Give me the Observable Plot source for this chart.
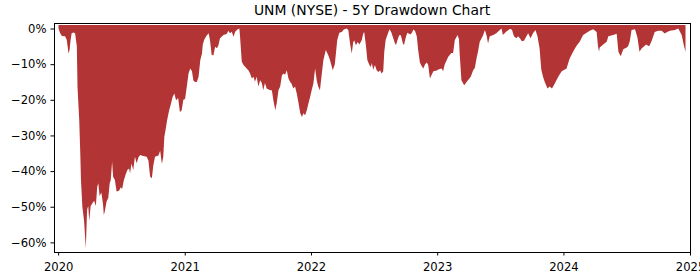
<!DOCTYPE html>
<html><head><meta charset="utf-8">
<script src="https://cdn.jsdelivr.net/npm/d3@7"></script>
<script src="https://cdn.jsdelivr.net/npm/@observablehq/plot@0.6"></script>
<style>
body{margin:0;background:#fff;font-family:"DejaVu Sans",sans-serif;}
#title{position:relative;height:20px;line-height:20px;font-size:13.9px;color:#000;width:700px;}
#title span{position:absolute;left:372px;transform:translateX(-50%);white-space:nowrap;}
#chart svg{display:block;}
</style></head><body>
<div id="title"><span>UNM (NYSE) - 5Y Drawdown Chart</span></div>
<div id="chart"></div>
<script>
const titleText = "UNM (NYSE) - 5Y Drawdown Chart";
const xTickLabels = ["2020","2021","2022","2023","2024","2025"];
const yTickValues = [0,-10,-20,-30,-40,-50,-60];
const FILL_TOP = 1.0;

const dates2020 = ["2020-01-02","2020-01-07","2020-01-12","2020-01-21","2020-01-26","2020-01-31",
"2020-02-03","2020-02-06","2020-02-09","2020-02-14","2020-02-19","2020-02-24","2020-02-26",
"2020-03-02","2020-03-05","2020-03-07","2020-03-11","2020-03-16","2020-03-21","2020-03-24","2020-03-25","2020-03-28","2020-03-31",
"2020-04-04","2020-04-09","2020-04-14","2020-04-19","2020-04-23","2020-04-26","2020-04-30",
"2020-05-05","2020-05-10","2020-05-12","2020-05-15","2020-05-20","2020-05-25","2020-05-29",
"2020-06-01","2020-06-05","2020-06-08","2020-06-13","2020-06-18","2020-06-25","2020-06-30",
"2020-07-04","2020-07-09","2020-07-14","2020-07-19","2020-07-24","2020-07-27","2020-07-31",
"2020-08-05","2020-08-10","2020-08-15","2020-08-20","2020-08-25",
"2020-09-03","2020-09-13","2020-09-18","2020-09-23","2020-09-28",
"2020-10-02","2020-10-07","2020-10-17","2020-10-22","2020-10-27","2020-10-31",
"2020-11-03","2020-11-08","2020-11-11","2020-11-17","2020-11-21","2020-11-27",
"2020-12-02","2020-12-07","2020-12-13","2020-12-18","2020-12-23","2020-12-28"];
const dd2020 = [0,-1.3,-2.1,-2.2,-3.2,-7,
-6,-3.2,-1.3,-1.1,-1.3,-5,-16.5,
-25.7,-35,-42.6,-50,-54,-61.7,-52.9,-50.7,-49.8,-54,
-49.8,-49,-48.3,-49.8,-44.4,-43.4,-47,
-46,-49.5,-52.3,-51.3,-48.5,-47.5,-43.4,
-42.6,-37.4,-41.6,-42.5,-45.7,-45.5,-44.5,
-45,-42.6,-41,-39.7,-39.3,-40.6,-37.9,
-39.7,-36,-37.8,-36.2,-35.5,
-35.8,-36,-37,-41.6,-42,
-38.5,-36,-35.6,-34.3,-38,-36,
-30.4,-27.6,-25.7,-22.9,-21.5,-19.2,
-18.2,-20.1,-19.5,-23.4,-23,-20];

const dates2021 = ["2021-01-02","2021-01-07","2021-01-12","2021-01-17","2021-01-22","2021-01-26","2021-01-31",
"2021-02-05","2021-02-10","2021-02-15","2021-02-20","2021-02-22","2021-02-26",
"2021-03-04","2021-03-11","2021-03-15","2021-03-20","2021-03-25","2021-03-30",
"2021-04-04","2021-04-08","2021-04-13","2021-04-23",
"2021-05-03","2021-05-07","2021-05-12","2021-05-17","2021-05-22","2021-05-27",
"2021-06-02","2021-06-08","2021-06-10","2021-06-15","2021-06-20","2021-06-29",
"2021-07-04","2021-07-09","2021-07-14","2021-07-19","2021-07-23","2021-07-28",
"2021-08-02","2021-08-07","2021-08-12","2021-08-16","2021-08-21","2021-08-26",
"2021-09-05","2021-09-10","2021-09-14","2021-09-20","2021-09-24","2021-09-29",
"2021-10-04","2021-10-09","2021-10-13","2021-10-18","2021-10-23","2021-10-28",
"2021-11-02","2021-11-06","2021-11-11","2021-11-16","2021-11-21","2021-11-26",
"2021-12-01","2021-12-06","2021-12-10","2021-12-15","2021-12-20","2021-12-25","2021-12-30"];
const dd2021 = [-19.8,-16.3,-12.6,-11.2,-12,-14.6,-15,
-15,-13.5,-8.8,-7,-4.6,-3.2,
-2.2,-1.3,-3.2,-7.4,-7.5,-5.1,
-5.5,-4.8,-2.7,-1.8,
-1.5,-0.6,-1.3,-0.9,-2.3,-0.9,
-0.3,0,-2.3,-9.3,-10.2,-11.2,
-11.7,-12.6,-14,-13.5,-14.9,-13.5,
-16.3,-14.5,-15.3,-17.3,-15.3,-16.8,
-17.3,-17.3,-20,-22.9,-21,-17.3,
-16.3,-13.2,-12.6,-13,-11.7,-14,
-15,-15.5,-16.8,-16.3,-18.2,-20.9,
-23.8,-24.8,-23.8,-24.3,-22.9,-20.9,-19];

const dates2022 = ["2022-01-03","2022-01-08","2022-01-13","2022-01-18","2022-01-22","2022-01-27",
"2022-02-01","2022-02-06","2022-02-13","2022-02-20","2022-02-25",
"2022-03-05","2022-03-11","2022-03-18","2022-03-24","2022-03-31",
"2022-04-06","2022-04-14","2022-04-19","2022-04-24","2022-04-29",
"2022-05-03","2022-05-06","2022-05-11","2022-05-16","2022-05-21","2022-05-28",
"2022-06-01","2022-06-04","2022-06-09","2022-06-13","2022-06-19","2022-06-23","2022-06-26","2022-06-30",
"2022-07-05","2022-07-10","2022-07-15","2022-07-20","2022-07-24","2022-07-29",
"2022-08-01","2022-08-05","2022-08-10","2022-08-16","2022-08-21","2022-08-27",
"2022-09-01","2022-09-04","2022-09-08","2022-09-13","2022-09-18","2022-09-24","2022-09-27",
"2022-10-03","2022-10-07","2022-10-15","2022-10-20","2022-10-24","2022-10-29",
"2022-11-03","2022-11-07","2022-11-12","2022-11-17","2022-11-22","2022-11-27",
"2022-12-02","2022-12-06","2022-12-11","2022-12-16","2022-12-21","2022-12-31"];
const dd2022 = [-17.3,-15.4,-11.2,-14.7,-16.3,-17.3,
-13,-8.8,-6,-7.5,-8.8,
-11.7,-10,-3.2,-1.2,-1,
-0.3,0,-0.4,-4.2,-7,
-3.9,-3.3,-4.7,-3.8,-4.5,-3.2,
-1.5,-1,-4.8,-8.8,-10.2,-10.8,-9.7,-11.6,
-10.2,-11.7,-12.2,-11.7,-12.6,-12,
-6.5,-3.2,-1.8,-0.2,-1,-2.7,
-4.2,-4.6,-3.3,-1.9,-1.9,-4.3,-4.6,
-2.2,-1.2,-1.7,-1.2,-0.3,-0.7,
-2.2,-6,-9.5,-10.5,-11.2,-10,
-9.5,-10.2,-14,-13,-12,-11.8];

const dates2023 = ["2023-01-04","2023-01-14","2023-01-18","2023-01-23",
"2023-02-02","2023-02-11","2023-02-16","2023-02-21",
"2023-03-01","2023-03-05","2023-03-07","2023-03-12","2023-03-20","2023-03-27","2023-03-31",
"2023-04-08","2023-04-15","2023-04-20","2023-04-25","2023-04-29",
"2023-05-04","2023-05-09","2023-05-14","2023-05-19","2023-05-24","2023-05-28",
"2023-06-02","2023-06-12","2023-06-21",
"2023-07-01","2023-07-06","2023-07-10","2023-07-15","2023-07-20","2023-07-30",
"2023-08-05","2023-08-11","2023-08-18","2023-08-23","2023-08-28",
"2023-09-03","2023-09-09","2023-09-16","2023-09-21","2023-09-28",
"2023-10-05","2023-10-12","2023-10-18","2023-10-24","2023-10-29",
"2023-11-03","2023-11-08","2023-11-16","2023-11-22","2023-11-29",
"2023-12-07","2023-12-17","2023-12-27"];
const dd2023 = [-11.5,-11.2,-12,-10,
-7.9,-6.9,-6.9,-3.2,
-1.8,-3,-7,-14.5,-15.9,-15,-14.5,
-13.5,-11.7,-11,-8.3,-6.5,
-3.7,-2.8,-1.8,-0.4,-2,-4.2,
-2.2,-1.8,-1.3,
-0.4,0,-1.8,-1.3,-0.8,-0.1,
-0.3,-2.2,-2.7,-2.2,-2.7,
-3.6,-3.4,-2.2,-1.3,-2.7,
-1.3,-0.4,-2.2,-5.5,-11.5,
-13.5,-15,-16.8,-16.3,-16.8,
-15.4,-13.5,-12];

const dates2024 = ["2024-01-05","2024-01-10","2024-01-19","2024-01-29",
"2024-02-07","2024-02-17","2024-02-27",
"2024-03-08","2024-03-17","2024-03-27",
"2024-04-06","2024-04-10","2024-04-13","2024-04-15","2024-04-25",
"2024-05-05","2024-05-10","2024-05-24",
"2024-06-03","2024-06-08","2024-06-13","2024-06-15","2024-06-22",
"2024-07-02","2024-07-06","2024-07-11","2024-07-16","2024-07-26",
"2024-08-02","2024-08-08","2024-08-14","2024-08-19","2024-08-27",
"2024-09-05","2024-09-12","2024-09-21",
"2024-10-01","2024-10-11","2024-10-20","2024-10-27",
"2024-11-04","2024-11-18","2024-11-28",
"2024-12-08","2024-12-14","2024-12-19"];
const dd2024 = [-11.5,-11.2,-8.4,-6.5,
-5,-3.7,-1.8,
-1.2,-0.6,-0.2,
-1,-5,-6.5,-5.3,-4.5,
-3.7,-2.2,-1.8,
-1.5,-6.5,-7.5,-7.7,-5.8,
-5.3,-5,-3.5,-0.4,-0.2,
-2.5,-6.5,-5.6,-5.2,-4.5,
-5,-3.5,-1,
-0.6,-0.6,-1.4,-1,
-0.6,-0.4,0,
-1.8,-4.6,-6.5];

const allDates = [].concat(dates2020, dates2021, dates2022, dates2023, dates2024);
const allDD = [].concat(dd2020, dd2021, dd2022, dd2023, dd2024);
const rows = allDates.map((d, i) => ({date: new Date(d + "T00:00:00Z"), dd: allDD[i]}));
const xTicks = xTickLabels.map(y => new Date(y + "-01-01T00:00:00Z"));

const chart = Plot.plot({
  width: 700,
  height: 260,
  marginTop: 3,
  marginBottom: 28,
  marginLeft: 54,
  marginRight: 10,
  style: {fontFamily: "DejaVu Sans, sans-serif", fontSize: "11.6px", color: "#000", background: "#fff"},
  x: {type: "utc", domain: [new Date("2019-12-20T00:00:00Z"), new Date("2025-01-01T00:00:00Z")],
      ticks: xTicks, tickFormat: d3.utcFormat("%Y"), tickSize: 3.5, tickPadding: 7, label: null},
  y: {domain: [-62.7, 1.55], ticks: yTickValues,
      tickFormat: d => (d < 0 ? "\u2212" : "") + Math.abs(d) + "%", tickSize: 3.5, tickPadding: 4.5, label: null},
  marks: [
    Plot.areaY(rows, {x: "date", y1: "dd", y2: FILL_TOP, fill: "#b33434"}),
    Plot.frame({stroke: "#000", strokeWidth: 1})
  ]
});
document.getElementById("chart").appendChild(chart);
</script>
</body></html>
